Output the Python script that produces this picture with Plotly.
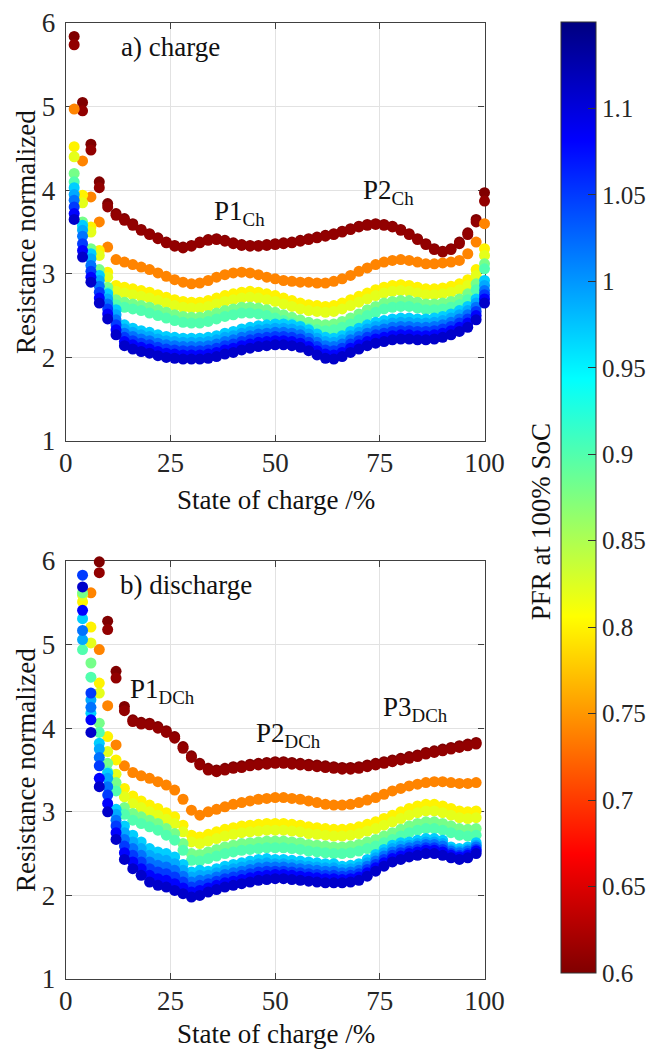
import plotly.graph_objects as go

# ---------------- data ----------------
soc_charge = list(range(2, 101, 2))       # 50 points
soc_discharge = list(range(4, 99, 2))     # 48 points
pfr_levels = [0.60, 0.61, 0.74, 0.80, 0.82, 0.88, 0.90, 0.97, 0.99, 1.02, 1.05, 1.08, 1.11]

# charge curves
ch_060 = [5.84, 5.05, 4.55, 4.10, 3.84, 3.72, 3.66, 3.60, 3.53, 3.48,
          3.43, 3.38, 3.34, 3.32, 3.34, 3.38, 3.41, 3.42, 3.40, 3.37,
          3.35, 3.34, 3.34, 3.35, 3.36, 3.37, 3.38, 3.40, 3.42, 3.44,
          3.46, 3.48, 3.51, 3.54, 3.57, 3.59, 3.60, 3.59, 3.57, 3.53,
          3.48, 3.42, 3.36, 3.30, 3.27, 3.30, 3.38, 3.49, 3.65, 3.97]
ch_061 = [5.74, 4.95, 4.48, 4.03, 3.80, 3.70, 3.64, 3.58, 3.52, 3.47,
          3.42, 3.37, 3.33, 3.31, 3.33, 3.37, 3.40, 3.41, 3.39, 3.36,
          3.34, 3.33, 3.33, 3.34, 3.35, 3.36, 3.37, 3.39, 3.41, 3.43,
          3.45, 3.47, 3.50, 3.53, 3.56, 3.58, 3.59, 3.58, 3.56, 3.52,
          3.47, 3.41, 3.35, 3.29, 3.26, 3.29, 3.36, 3.47, 3.62, 3.87]
ch_074 = [4.97, 4.35, 3.92, 3.62, 3.32, 3.17, 3.14, 3.11, 3.08, 3.05,
          3.01, 2.97, 2.93, 2.90, 2.88, 2.89, 2.92, 2.96, 2.99, 3.01,
          3.02, 3.01, 2.99, 2.96, 2.94, 2.92, 2.91, 2.90, 2.90, 2.89,
          2.89, 2.91, 2.94, 2.98, 3.03, 3.07, 3.11, 3.14, 3.16, 3.17,
          3.16, 3.14, 3.12, 3.12, 3.13, 3.14, 3.16, 3.24, 3.38, 3.60]
ch_080 = [4.52, 3.94, 3.56, 3.28, 3.02, 2.86, 2.84, 2.82, 2.80, 2.78,
          2.75, 2.72, 2.69, 2.67, 2.66, 2.66, 2.68, 2.71, 2.74, 2.76,
          2.78, 2.79, 2.78, 2.76, 2.74, 2.71, 2.68, 2.65, 2.63, 2.62,
          2.61, 2.62, 2.65, 2.69, 2.73, 2.77, 2.81, 2.84, 2.86, 2.87,
          2.86, 2.84, 2.82, 2.82, 2.83, 2.85, 2.88, 2.93, 3.05, 3.30]
ch_082 = [4.40, 3.85, 3.50, 3.22, 2.96, 2.79, 2.77, 2.75, 2.73, 2.71,
          2.68, 2.65, 2.62, 2.60, 2.59, 2.59, 2.61, 2.64, 2.67, 2.69,
          2.71, 2.72, 2.71, 2.69, 2.67, 2.64, 2.61, 2.58, 2.56, 2.55,
          2.54, 2.55, 2.58, 2.62, 2.66, 2.70, 2.74, 2.77, 2.79, 2.80,
          2.79, 2.77, 2.75, 2.75, 2.76, 2.78, 2.81, 2.86, 2.98, 3.22]
ch_088 = [4.20, 3.62, 3.30, 3.05, 2.84, 2.69, 2.66, 2.64, 2.62, 2.60,
          2.57, 2.54, 2.51, 2.49, 2.48, 2.48, 2.50, 2.53, 2.56, 2.58,
          2.60, 2.60, 2.59, 2.57, 2.54, 2.51, 2.48, 2.45, 2.42, 2.40,
          2.39, 2.40, 2.43, 2.47, 2.52, 2.57, 2.61, 2.65, 2.67, 2.68,
          2.68, 2.66, 2.64, 2.64, 2.65, 2.67, 2.70, 2.76, 2.88, 3.12]
ch_090 = [4.10, 3.55, 3.24, 2.98, 2.78, 2.63, 2.60, 2.58, 2.56, 2.53,
          2.50, 2.47, 2.44, 2.42, 2.41, 2.41, 2.43, 2.46, 2.49, 2.51,
          2.53, 2.53, 2.52, 2.50, 2.47, 2.44, 2.41, 2.38, 2.35, 2.33,
          2.32, 2.33, 2.36, 2.40, 2.45, 2.50, 2.54, 2.58, 2.60, 2.61,
          2.61, 2.59, 2.57, 2.57, 2.58, 2.60, 2.63, 2.69, 2.81, 3.06]
ch_097 = [4.03, 3.58, 3.24, 2.98, 2.76, 2.57, 2.39, 2.35, 2.32, 2.30,
          2.27, 2.25, 2.24, 2.23, 2.23, 2.23, 2.24, 2.26, 2.29, 2.31,
          2.34, 2.36, 2.38, 2.39, 2.40, 2.40, 2.39, 2.37, 2.33, 2.28,
          2.24, 2.23, 2.26, 2.31, 2.35, 2.39, 2.42, 2.44, 2.46, 2.47,
          2.47, 2.46, 2.46, 2.47, 2.49, 2.52, 2.56, 2.61, 2.70, 2.92]
ch_099 = [3.95, 3.52, 3.18, 2.92, 2.70, 2.51, 2.34, 2.30, 2.27, 2.25,
          2.22, 2.20, 2.19, 2.18, 2.18, 2.18, 2.19, 2.21, 2.24, 2.26,
          2.29, 2.31, 2.33, 2.34, 2.35, 2.35, 2.34, 2.32, 2.28, 2.23,
          2.19, 2.18, 2.21, 2.26, 2.30, 2.34, 2.37, 2.39, 2.41, 2.42,
          2.42, 2.41, 2.41, 2.42, 2.44, 2.47, 2.51, 2.56, 2.65, 2.86]
ch_102 = [3.88, 3.45, 3.10, 2.85, 2.64, 2.45, 2.29, 2.25, 2.22, 2.20,
          2.17, 2.15, 2.14, 2.13, 2.13, 2.13, 2.14, 2.16, 2.19, 2.21,
          2.24, 2.26, 2.28, 2.29, 2.30, 2.30, 2.29, 2.27, 2.23, 2.18,
          2.14, 2.13, 2.16, 2.21, 2.25, 2.29, 2.32, 2.34, 2.36, 2.37,
          2.37, 2.36, 2.36, 2.37, 2.39, 2.42, 2.46, 2.51, 2.60, 2.80]
ch_105 = [3.80, 3.36, 3.03, 2.78, 2.58, 2.39, 2.24, 2.20, 2.17, 2.15,
          2.12, 2.10, 2.09, 2.08, 2.08, 2.08, 2.09, 2.11, 2.14, 2.16,
          2.19, 2.21, 2.23, 2.24, 2.25, 2.25, 2.24, 2.22, 2.18, 2.13,
          2.09, 2.08, 2.11, 2.16, 2.20, 2.24, 2.27, 2.29, 2.31, 2.32,
          2.32, 2.31, 2.31, 2.32, 2.34, 2.37, 2.41, 2.46, 2.55, 2.75]
ch_108 = [3.72, 3.28, 2.96, 2.71, 2.52, 2.33, 2.19, 2.15, 2.12, 2.10,
          2.07, 2.05, 2.04, 2.03, 2.03, 2.03, 2.04, 2.06, 2.09, 2.11,
          2.14, 2.16, 2.18, 2.19, 2.20, 2.20, 2.19, 2.17, 2.13, 2.08,
          2.04, 2.03, 2.06, 2.11, 2.15, 2.19, 2.22, 2.24, 2.26, 2.27,
          2.27, 2.26, 2.26, 2.27, 2.29, 2.32, 2.36, 2.41, 2.50, 2.70]
ch_111 = [3.65, 3.20, 2.90, 2.65, 2.46, 2.27, 2.14, 2.10, 2.07, 2.05,
          2.02, 2.00, 1.99, 1.98, 1.98, 1.98, 1.99, 2.01, 2.04, 2.06,
          2.09, 2.11, 2.13, 2.14, 2.15, 2.15, 2.14, 2.12, 2.08, 2.03,
          1.99, 1.98, 2.01, 2.06, 2.10, 2.14, 2.17, 2.19, 2.21, 2.22,
          2.22, 2.21, 2.21, 2.22, 2.24, 2.27, 2.31, 2.36, 2.45, 2.65]

# discharge curves (None = above the visible range)
dc_060 = [None, None, 5.99, 5.28, 4.68, 4.26, 4.10, 4.07, 4.06, 4.02,
          3.97, 3.90, 3.78, 3.67, 3.58, 3.52, 3.50, 3.52, 3.54, 3.55,
          3.57, 3.58, 3.59, 3.60, 3.60, 3.59, 3.58, 3.57, 3.56, 3.55,
          3.54, 3.53, 3.53, 3.54, 3.56, 3.58, 3.60, 3.62, 3.64, 3.66,
          3.68, 3.71, 3.73, 3.75, 3.77, 3.79, 3.81, 3.83]
dc_061 = [None, None, 5.86, 5.18, 4.60, 4.21, 4.08, 4.05, 4.04, 4.00,
          3.95, 3.88, 3.76, 3.65, 3.56, 3.50, 3.48, 3.50, 3.52, 3.53,
          3.55, 3.56, 3.57, 3.58, 3.58, 3.57, 3.56, 3.55, 3.54, 3.53,
          3.52, 3.51, 3.51, 3.52, 3.54, 3.56, 3.58, 3.60, 3.62, 3.64,
          3.66, 3.69, 3.71, 3.73, 3.75, 3.77, 3.79, 3.81]
dc_074 = [None, 5.62, 4.94, 4.27, 3.80, 3.55, 3.47, 3.43, 3.40, 3.36,
          3.32, 3.26, 3.15, 3.02, 2.96, 3.00, 3.03, 3.06, 3.09, 3.11,
          3.13, 3.15, 3.16, 3.17, 3.17, 3.16, 3.15, 3.13, 3.11, 3.09,
          3.08, 3.08, 3.09, 3.11, 3.14, 3.17, 3.21, 3.25, 3.28, 3.31,
          3.33, 3.35, 3.36, 3.36, 3.35, 3.34, 3.34, 3.35]
dc_080 = [5.51, 5.21, 4.54, 3.90, 3.62, 3.28, 3.19, 3.13, 3.08, 3.04,
          2.99, 2.94, 2.84, 2.72, 2.70, 2.73, 2.76, 2.79, 2.81, 2.83,
          2.84, 2.85, 2.86, 2.86, 2.86, 2.85, 2.84, 2.82, 2.81, 2.80,
          2.79, 2.79, 2.80, 2.82, 2.85, 2.88, 2.92, 2.96, 3.00, 3.04,
          3.07, 3.09, 3.09, 3.07, 3.04, 3.01, 3.00, 3.01]
dc_082 = [5.59, 5.02, 4.42, 3.72, 3.45, 3.18, 3.10, 3.05, 3.00, 2.96,
          2.91, 2.86, 2.76, 2.64, 2.62, 2.65, 2.68, 2.71, 2.73, 2.75,
          2.76, 2.77, 2.78, 2.78, 2.78, 2.77, 2.76, 2.74, 2.73, 2.72,
          2.71, 2.71, 2.72, 2.74, 2.77, 2.80, 2.84, 2.88, 2.92, 2.96,
          2.99, 3.01, 3.01, 2.99, 2.96, 2.93, 2.92, 2.93]
dc_088 = [5.62, 4.78, 4.06, 3.58, 3.35, 3.05, 2.98, 2.94, 2.90, 2.86,
          2.80, 2.74, 2.62, 2.50, 2.49, 2.52, 2.55, 2.58, 2.60, 2.62,
          2.63, 2.64, 2.65, 2.65, 2.65, 2.64, 2.63, 2.61, 2.60, 2.59,
          2.58, 2.58, 2.59, 2.61, 2.64, 2.67, 2.71, 2.75, 2.79, 2.83,
          2.86, 2.88, 2.88, 2.86, 2.83, 2.80, 2.79, 2.80]
dc_090 = [4.94, 4.61, 3.95, 3.48, 3.25, 2.97, 2.90, 2.86, 2.82, 2.78,
          2.72, 2.66, 2.54, 2.42, 2.41, 2.44, 2.47, 2.50, 2.52, 2.54,
          2.55, 2.56, 2.57, 2.57, 2.57, 2.56, 2.55, 2.53, 2.52, 2.51,
          2.50, 2.50, 2.51, 2.53, 2.56, 2.59, 2.63, 2.67, 2.71, 2.75,
          2.78, 2.80, 2.80, 2.78, 2.75, 2.72, 2.71, 2.72]
dc_097 = [5.31, 4.18, 3.82, 3.46, 3.03, 2.83, 2.72, 2.64, 2.56, 2.52,
          2.50, 2.46, 2.37, 2.28, 2.30, 2.29, 2.32, 2.35, 2.37, 2.39,
          2.41, 2.43, 2.44, 2.43, 2.43, 2.42, 2.41, 2.40, 2.39, 2.38,
          2.38, 2.35, 2.36, 2.38, 2.43, 2.49, 2.55, 2.60, 2.63, 2.64,
          2.66, 2.68, 2.68, 2.66, 2.58, 2.56, 2.58, 2.63]
dc_099 = [5.06, 4.34, 3.75, 3.40, 2.97, 2.75, 2.64, 2.56, 2.48, 2.44,
          2.42, 2.38, 2.30, 2.22, 2.24, 2.24, 2.27, 2.30, 2.32, 2.34,
          2.36, 2.38, 2.39, 2.38, 2.38, 2.37, 2.36, 2.35, 2.34, 2.33,
          2.33, 2.31, 2.32, 2.34, 2.39, 2.45, 2.51, 2.56, 2.59, 2.60,
          2.62, 2.64, 2.64, 2.62, 2.55, 2.53, 2.55, 2.60]
dc_102 = [5.17, 4.25, 3.65, 3.30, 2.90, 2.67, 2.56, 2.48, 2.40, 2.36,
          2.34, 2.30, 2.23, 2.16, 2.18, 2.19, 2.22, 2.25, 2.27, 2.29,
          2.31, 2.33, 2.34, 2.34, 2.34, 2.33, 2.32, 2.31, 2.30, 2.29,
          2.29, 2.27, 2.28, 2.30, 2.35, 2.41, 2.47, 2.52, 2.55, 2.57,
          2.59, 2.61, 2.61, 2.59, 2.53, 2.51, 2.53, 2.58]
dc_105 = [5.83, 4.42, 3.55, 3.20, 2.83, 2.59, 2.48, 2.40, 2.32, 2.28,
          2.26, 2.22, 2.16, 2.10, 2.12, 2.14, 2.17, 2.20, 2.22, 2.24,
          2.26, 2.28, 2.29, 2.29, 2.29, 2.28, 2.27, 2.26, 2.25, 2.24,
          2.24, 2.23, 2.24, 2.26, 2.31, 2.37, 2.43, 2.48, 2.51, 2.53,
          2.55, 2.57, 2.57, 2.55, 2.50, 2.48, 2.50, 2.55]
dc_108 = [5.41, 4.10, 3.40, 3.10, 2.75, 2.51, 2.40, 2.32, 2.24, 2.20,
          2.18, 2.14, 2.09, 2.04, 2.06, 2.09, 2.12, 2.15, 2.17, 2.19,
          2.21, 2.23, 2.24, 2.25, 2.25, 2.24, 2.23, 2.22, 2.21, 2.20,
          2.20, 2.19, 2.20, 2.22, 2.27, 2.33, 2.39, 2.44, 2.47, 2.50,
          2.52, 2.54, 2.54, 2.52, 2.48, 2.46, 2.48, 2.53]
dc_111 = [5.69, 3.95, 3.30, 3.00, 2.67, 2.43, 2.32, 2.24, 2.16, 2.12,
          2.10, 2.06, 2.02, 1.98, 2.00, 2.04, 2.07, 2.10, 2.12, 2.14,
          2.16, 2.18, 2.19, 2.20, 2.20, 2.19, 2.18, 2.17, 2.16, 2.15,
          2.15, 2.15, 2.16, 2.18, 2.23, 2.29, 2.35, 2.40, 2.43, 2.46,
          2.48, 2.50, 2.50, 2.48, 2.45, 2.43, 2.45, 2.50]

charge_series = [ch_060, ch_061, ch_074, ch_080, ch_082, ch_088, ch_090,
                 ch_097, ch_099, ch_102, ch_105, ch_108, ch_111]
discharge_series = [dc_060, dc_061, dc_074, dc_080, dc_082, dc_088, dc_090,
                    dc_097, dc_099, dc_102, dc_105, dc_108, dc_111]

x_ticks = [0, 25, 50, 75, 100]
y_ticks = [1, 2, 3, 4, 5, 6]
cbar_ticks = [0.6, 0.65, 0.7, 0.75, 0.8, 0.85, 0.9, 0.95, 1.0, 1.05, 1.1]
cbar_ticktext = ["0.6", "0.65", "0.7", "0.75", "0.8", "0.85", "0.9", "0.95", "1", "1.05", "1.1"]

# ---------------- figure ----------------
W, H = 655, 1049
FONT = "Liberation Serif"
TXT = "#262626"

jet_reversed = [[0.0, "rgb(128,0,0)"], [0.125, "rgb(255,0,0)"], [0.375, "rgb(255,255,0)"],
                [0.625, "rgb(0,255,255)"], [0.875, "rgb(0,0,255)"], [1.0, "rgb(0,0,128)"]]

fig = go.Figure()
for pfr, ys in zip(pfr_levels, charge_series):
    fig.add_trace(go.Scatter(x=soc_charge, y=ys, mode="markers", xaxis="x", yaxis="y",
                             marker=dict(size=11, color=[pfr] * len(ys), coloraxis="coloraxis",
                                         line=dict(width=0)),
                             cliponaxis=False, showlegend=False, hoverinfo="skip"))
for pfr, ys in zip(pfr_levels, discharge_series):
    fig.add_trace(go.Scatter(x=soc_discharge, y=ys, mode="markers", xaxis="x2", yaxis="y2",
                             marker=dict(size=11, color=[pfr] * len(ys), coloraxis="coloraxis",
                                         line=dict(width=0)),
                             cliponaxis=False, showlegend=False, hoverinfo="skip"))

def px(x):
    return x / W

def py(y):
    return 1 - y / H

ax_common = dict(showline=True, linecolor="#404040", linewidth=1.3, mirror="ticks",
                 ticks="inside", ticklen=6, tickwidth=1.2, tickcolor="#404040",
                 showgrid=True, gridcolor="#e2e2e2", gridwidth=1, zeroline=False,
                 tickfont=dict(family=FONT, size=27, color=TXT), layer="below traces",
                 automargin=False, fixedrange=True)

xdom = [px(66), px(486)]
fig.update_layout(
    width=W, height=H, margin=dict(l=0, r=0, t=0, b=0),
    paper_bgcolor="white", plot_bgcolor="white",
    xaxis=dict(ax_common, domain=xdom, range=[0, 100], tickvals=x_ticks, anchor="y",
               ticklabelstandoff=-3),
    yaxis=dict(ax_common, domain=[py(441), py(23)], range=[1, 6], tickvals=y_ticks, anchor="x",
               ticklabelstandoff=4),
    xaxis2=dict(ax_common, domain=xdom, range=[0, 100], tickvals=x_ticks, anchor="y2",
                ticklabelstandoff=-3),
    yaxis2=dict(ax_common, domain=[py(979), py(561)], range=[1, 6], tickvals=y_ticks, anchor="x2",
                ticklabelstandoff=4),
    coloraxis=dict(cmin=0.6, cmax=1.15, colorscale=jet_reversed,
                   colorbar=dict(x=px(563), xanchor="left", xpad=0, ypad=0,
                                 y=1 - (22 + 973) / 2 / H, yanchor="middle",
                                 len=(973 - 22) / H, lenmode="fraction",
                                 thickness=35, thicknessmode="pixels",
                                 outlinewidth=1, outlinecolor="#333333",
                                 ticks="inside", ticklen=8, tickwidth=1.2, tickcolor="#333333",
                                 tickvals=cbar_ticks, ticktext=cbar_ticktext,
                                 tickfont=dict(family=FONT, size=25, color=TXT))),
)

ann_font = dict(family=FONT, size=27, color="#111111")
annotations = [
    dict(text="Resistance normalized", x=px(26), y=py(232), textangle=-90),
    dict(text="Resistance normalized", x=px(26), y=py(770), textangle=-90),
    dict(text="State of charge /%", x=px(277), y=py(500)),
    dict(text="State of charge /%", x=px(277), y=py(1034)),
    dict(text="PFR at 100% SoC", x=px(543), y=py(522), textangle=-90),
    dict(text="a) charge", x=px(119), y=py(47), xanchor="left"),
    dict(text="P1<sub>Ch</sub>", x=px(213), y=py(213), xanchor="left"),
    dict(text="P2<sub>Ch</sub>", x=px(362), y=py(192), xanchor="left"),
    dict(text="b) discharge", x=px(118), y=py(585), xanchor="left"),
    dict(text="P1<sub>DCh</sub>", x=px(128), y=py(691), xanchor="left"),
    dict(text="P2<sub>DCh</sub>", x=px(255), y=py(735), xanchor="left"),
    dict(text="P3<sub>DCh</sub>", x=px(382), y=py(709), xanchor="left"),
]
for a in annotations:
    a.setdefault("xanchor", "center")
    fig.add_annotation(xref="paper", yref="paper", showarrow=False, yanchor="middle",
                       font=ann_font, **a)

fig.write_html("out.html")
